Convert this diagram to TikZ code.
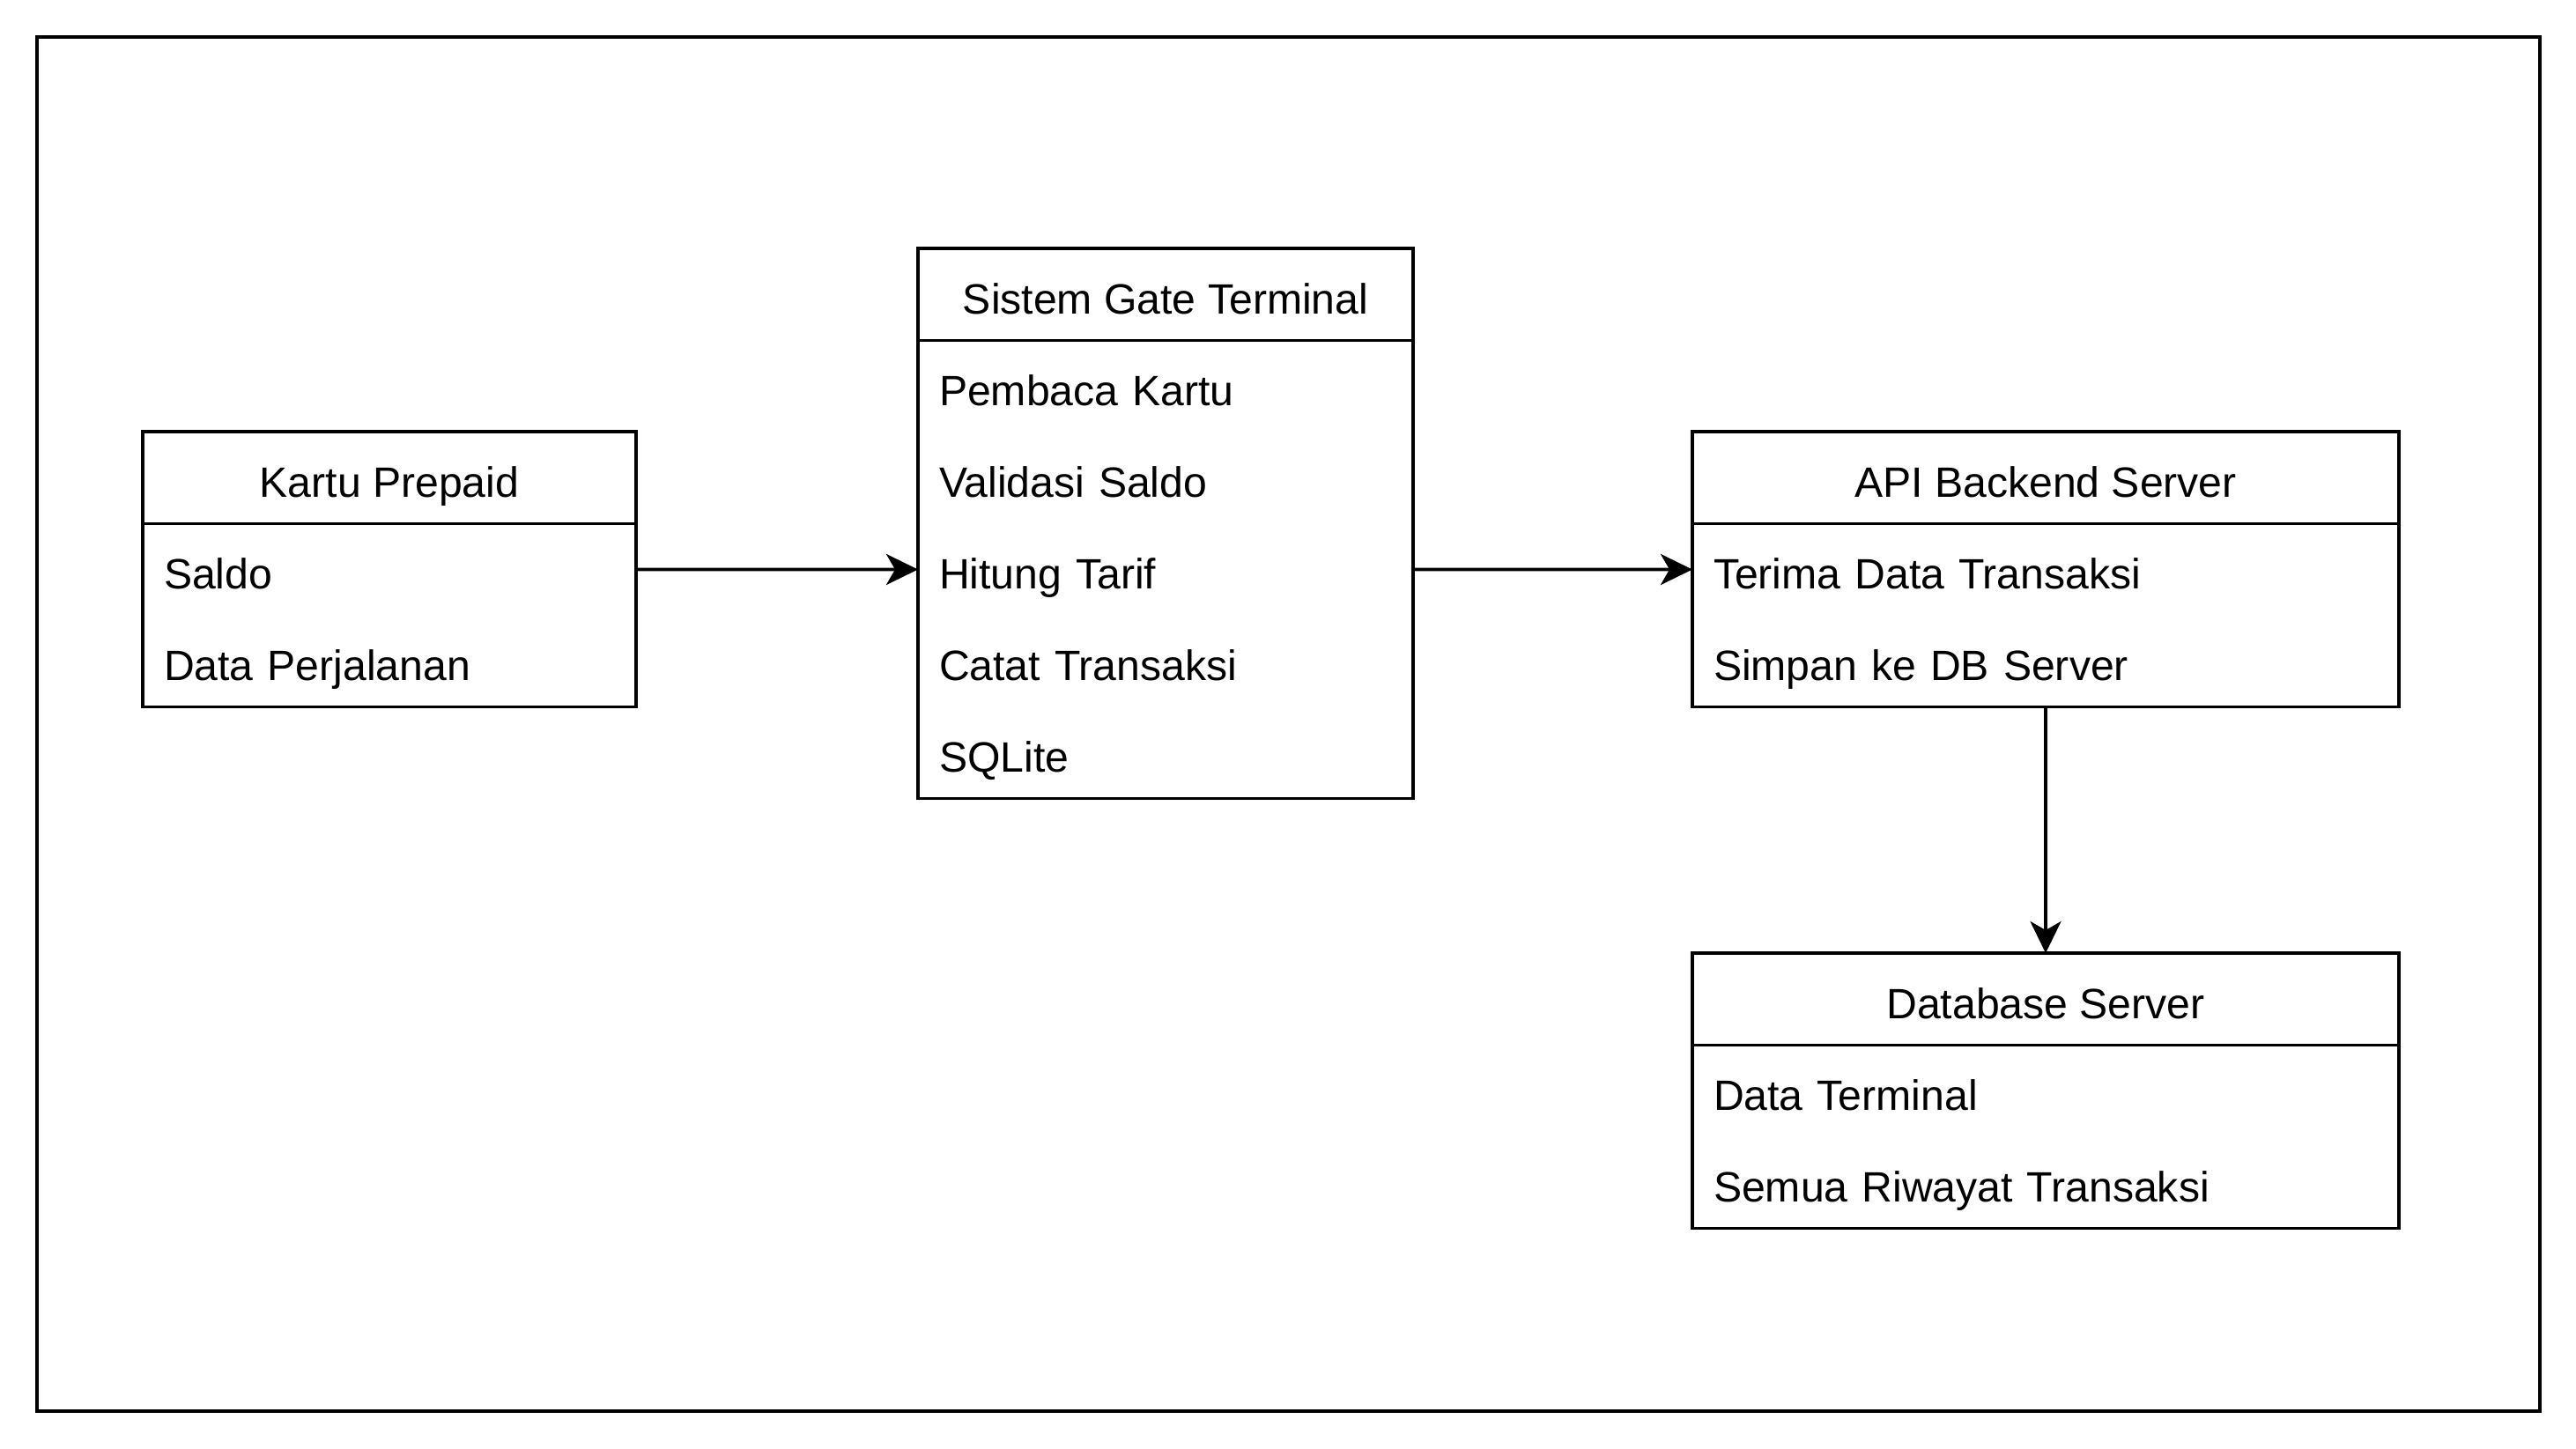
\documentclass[tikz,border=0pt]{standalone}
\usepackage{fontspec}
\setmainfont{Liberation Sans}
\usetikzlibrary{positioning,arrows.meta}

\tikzset{
  boxfont/.style={font=\fontsize{13.7}{16}\selectfont, text height=13pt, text depth=0.4pt},
  boxhead/.style={draw, rectangle, boxfont, minimum width=#1, minimum height=1.045cm,
    inner sep=0pt, outer sep=0pt, anchor=north west},
  boxrow/.style={rectangle, boxfont, text width=#1, align=left, minimum height=1.04cm,
    inner xsep=0.24cm, inner ysep=0pt, outer sep=0pt},
  flow/.style={-{Stealth[length=0.36cm, width=0.35cm, inset=0.1cm]}}
}

\begin{document}
\begin{tikzpicture}[line width=1.1pt]
    \useasboundingbox (0,0) rectangle (29.24,16.44);

    % Outer frame
    \draw (0.42,0.42) rectangle (28.83,16.02);

    % Kartu Prepaid
    \node[boxhead=5.60cm] (kartu) at (1.62,11.54) {Kartu Prepaid};
    \node[boxrow=5.12cm, below=0pt of kartu] (saldo) {Saldo};
    \node[boxrow=5.12cm, below=0pt of saldo] (perjalanan) {Data Perjalanan};
    \draw (kartu.north west) rectangle (perjalanan.south east);

    % Sistem Gate Terminal
    \node[boxhead=5.62cm] (gate) at (10.42,13.62) {Sistem Gate Terminal};
    \node[boxrow=5.14cm, below=0pt of gate] (pembaca) {Pembaca Kartu};
    \node[boxrow=5.14cm, below=0pt of pembaca] (validasi) {Validasi Saldo};
    \node[boxrow=5.14cm, below=0pt of validasi] (hitung) {Hitung Tarif};
    \node[boxrow=5.14cm, below=0pt of hitung] (catat) {Catat Transaksi};
    \node[boxrow=5.14cm, below=0pt of catat] (sqlite) {SQLite};
    \draw (gate.north west) rectangle (sqlite.south east);

    % API Backend Server
    \node[boxhead=8.02cm] (api) at (19.21,11.54) {API Backend Server};
    \node[boxrow=7.54cm, below=0pt of api] (terima) {Terima Data Transaksi};
    \node[boxrow=7.54cm, below=0pt of terima] (simpan) {Simpan ke DB Server};
    \draw (api.north west) rectangle (simpan.south east);

    % Database Server
    \node[boxhead=8.02cm] (db) at (19.21,5.62) {Database Server};
    \node[boxrow=7.54cm, below=0pt of db] (dataterm) {Data Terminal};
    \node[boxrow=7.54cm, below=0pt of dataterm] (riwayat) {Semua Riwayat Transaksi};
    \draw (db.north west) rectangle (riwayat.south east);

    % Arrows
    \draw[flow] (saldo.east) -- (hitung.west);
    \draw[flow] (hitung.east) -- (terima.west);
    \draw[flow] (simpan.south) -- (db.north);
\end{tikzpicture}
\end{document}
